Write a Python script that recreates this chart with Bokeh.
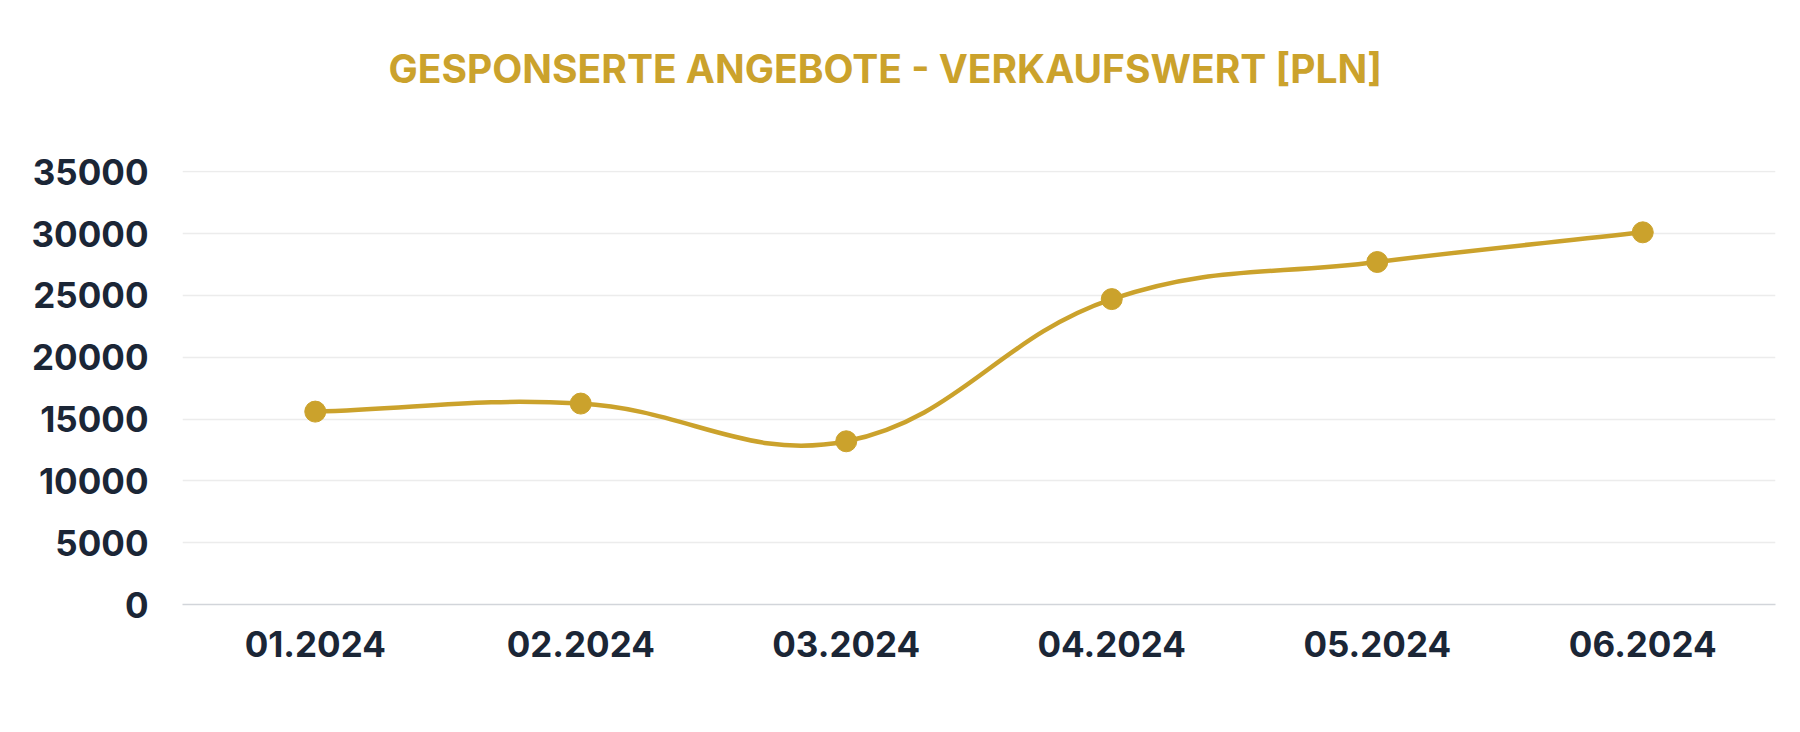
from bokeh.plotting import figure
from bokeh.layouts import column
from bokeh.models import Range1d, FixedTicker
from bokeh.embed import file_html
from bokeh.resources import INLINE

# data
months = ["01.2024", "02.2024", "03.2024", "04.2024", "05.2024", "06.2024"]
sales_value = [15600, 16250, 13200, 24700, 27700, 30100]
y_ticks = [0, 5000, 10000, 15000, 20000, 25000, 30000, 35000]
chart_title = "GESPONSERTE ANGEBOTE - VERKAUFSWERT [PLN]"

GOLD = "#CBA22C"
NAVY = "#1B2636"
FONT = "Inter"

W = 1784
TITLE_H = 100
H = 716 - TITLE_H
LEFT, RIGHT, TOP, BOTTOM = 182, 9, 70, 112
Y_MAX = 35100

# title strip (own small figure so the title can sit high above the chart)
head = figure(width=W, height=TITLE_H, output_backend="svg", toolbar_location=None,
              x_axis_location=None, y_axis_location=None,
              min_border_left=LEFT, min_border_right=RIGHT,
              min_border_top=96, min_border_bottom=0)
head.outline_line_color = None
head.grid.visible = False
head.title.text = chart_title
head.title.text_font = FONT
head.title.text_font_style = "bold"
head.title.text_font_size = "39px"
head.title.text_color = GOLD
head.title.align = "left"
head.title.offset = 206

p = figure(width=W, height=H, output_backend="svg", toolbar_location=None,
           x_range=Range1d(0, len(months)), y_range=Range1d(0, Y_MAX),
           min_border_left=LEFT, min_border_right=RIGHT,
           min_border_top=TOP, min_border_bottom=BOTTOM)
p.outline_line_color = None
p.background_fill_color = "white"

xs = [i + 0.5 for i in range(len(months))]

# smooth curve like chart.js (tension 0.4), control points in pixel space
px_x = (W - LEFT - RIGHT) / len(months)
px_y = (H - TOP - BOTTOM) / Y_MAX
t = 0.4
cps = []
for i in range(len(xs)):
    px, py = (xs[i - 1], sales_value[i - 1]) if i > 0 else (xs[i], sales_value[i])
    nx, ny = (xs[i + 1], sales_value[i + 1]) if i < len(xs) - 1 else (xs[i], sales_value[i])
    cx, cy = xs[i], sales_value[i]
    d01 = (((cx - px) * px_x) ** 2 + ((cy - py) * px_y) ** 2) ** 0.5
    d12 = (((nx - cx) * px_x) ** 2 + ((ny - cy) * px_y) ** 2) ** 0.5
    s = d01 + d12
    fa = t * d01 / s if s else 0
    fb = t * d12 / s if s else 0
    cps.append(((cx - fa * (nx - px), cy - fa * (ny - py)),
                (cx + fb * (nx - px), cy + fb * (ny - py))))

p.bezier(x0=xs[:-1], y0=sales_value[:-1], x1=xs[1:], y1=sales_value[1:],
         cx0=[c[1][0] for c in cps[:-1]], cy0=[c[1][1] for c in cps[:-1]],
         cx1=[c[0][0] for c in cps[1:]], cy1=[c[0][1] for c in cps[1:]],
         line_color=GOLD, line_width=4.5)
p.scatter(xs, sales_value, size=21, fill_color=GOLD, line_color=GOLD)

# axes
p.xaxis.ticker = FixedTicker(ticks=xs)
p.xaxis.major_label_overrides = {x: m for x, m in zip(xs, months)}
p.yaxis.ticker = FixedTicker(ticks=y_ticks)
for ax in (p.xaxis, p.yaxis):
    ax.major_tick_line_color = None
    ax.minor_tick_line_color = None
    ax.major_label_text_font = FONT
    ax.major_label_text_font_style = "bold"
    ax.major_label_text_font_size = "35px"
    ax.major_label_text_color = NAVY
p.yaxis.axis_line_color = None
p.yaxis.major_label_standoff = 28
p.xaxis.axis_line_color = "#D2D5DA"
p.xaxis.axis_line_width = 1.5
p.xaxis.major_label_standoff = 20

p.xgrid.grid_line_color = None
p.ygrid.grid_line_color = "#ECECEC"
p.ygrid.grid_line_width = 1.5

layout = column(head, p, spacing=0)
open("out.html", "w").write(file_html(layout, INLINE))
